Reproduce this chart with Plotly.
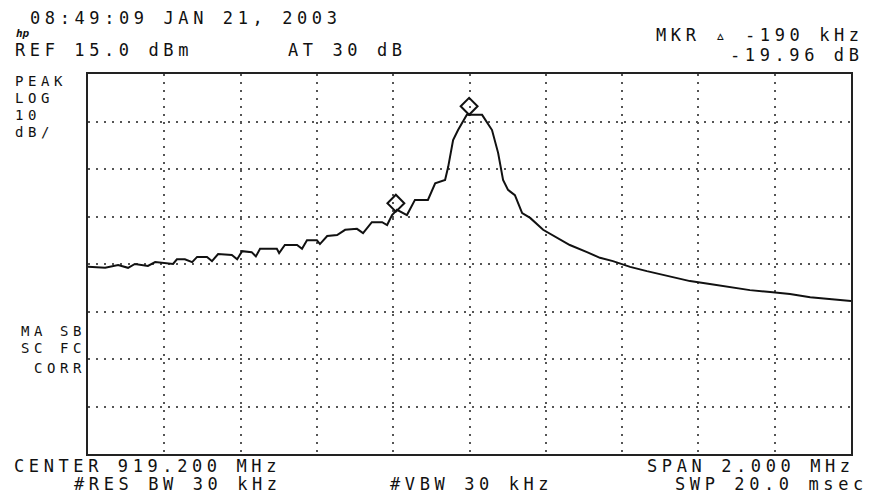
import plotly.graph_objects as go

# ---- data ----
freq_mhz = [918.200, 918.245, 918.279, 918.305, 918.323, 918.357, 918.376, 918.410, 918.423,
            918.433, 918.454, 918.473, 918.486, 918.512, 918.525, 918.541, 918.577, 918.591,
            918.604, 918.629, 918.640, 918.651, 918.695, 918.701, 918.716, 918.748, 918.761,
            918.774, 918.800, 918.808, 918.827, 918.853, 918.874, 918.905, 918.921, 918.944,
            918.971, 918.984, 918.997, 919.010, 919.026, 919.036, 919.057, 919.091, 919.110,
            919.136, 919.144, 919.157, 919.170, 919.183, 919.193, 919.233, 919.259, 919.275,
            919.288, 919.301, 919.319, 919.338, 919.359, 919.393, 919.429, 919.463, 919.508,
            919.542, 919.576, 919.621, 919.665, 919.707, 919.752, 919.778, 919.830, 919.883,
            919.935, 919.988, 920.040, 920.093, 920.145, 920.200]
level_dbm = [-25.6, -25.8, -25.2, -25.8, -25.0, -25.4, -24.6, -24.8, -25.0,
             -24.0, -24.0, -24.6, -23.5, -23.5, -24.4, -22.9, -23.1, -24.0,
             -22.3, -22.5, -23.4, -21.8, -21.8, -22.7, -21.0, -21.0, -21.8,
             -20.0, -20.0, -20.8, -19.1, -18.9, -17.8, -17.6, -18.5, -16.2,
             -16.2, -16.8, -14.7, -13.6, -14.3, -14.7, -11.5, -11.5, -8.0,
             -7.3, -4.6, 1.1, 3.2, 4.9, 6.4, 6.4, 3.2, -1.6,
             -7.3, -9.4, -10.5, -14.3, -15.3, -17.8, -19.5, -21.0, -22.5,
             -23.7, -24.4, -25.6, -26.5, -27.3, -28.0, -28.6, -29.2, -29.8,
             -30.5, -30.9, -31.3, -32.0, -32.4, -32.8]
marker_freq = [919.199, 919.007]
marker_level = [8.2, -12.2]

ref_level = 15.0
db_per_div = 10
center_mhz = 919.2
span_mhz = 2.0

# ---- layout helpers (pixel -> paper) ----
L, R, T, B = 88, 851, 74, 454
FONT = "DejaVu Sans Mono"


def ann(text, x, y, anchor="left", size=17, ls=4.6):
    return dict(text=f'<span style="letter-spacing:{ls}px">{text}</span>',
                x=(x - L) / (R - L), y=(B - y) / (B - T), xref="paper", yref="paper",
                xanchor=anchor, yanchor="middle", showarrow=False,
                font=dict(family=FONT, size=size, color="#111"))


fig = go.Figure()
fig.add_trace(go.Scatter(x=freq_mhz, y=level_dbm, mode="lines",
                         line=dict(color="#111", width=2), hoverinfo="skip"))
fig.add_trace(go.Scatter(x=marker_freq, y=marker_level, mode="markers",
                         marker=dict(symbol="diamond-open", size=13, color="#111",
                                     line=dict(width=2, color="#111")), hoverinfo="skip"))

annotations = [
    ann("08:49:09 JAN 21, 2003", 28, 18),
    ann("<i><b>hp</b></i>", 14, 34, size=11, ls=0),
    ann("REF 15.0 dBm", 13, 50),
    ann("AT 30 dB", 286, 50),
    ann("MKR ▵ -190 kHz", 866, 35, anchor="right"),
    ann("-19.96 dB", 866, 55, anchor="right"),
    ann("PEAK", 13, 81, size=14, ls=4.6),
    ann("LOG", 13, 98, size=14, ls=4.6),
    ann("10", 13, 115, size=14, ls=4.6),
    ann("dB/", 13, 132, size=14, ls=4.6),
    ann("MA SB", 88, 331, anchor="right", size=14, ls=4.6),
    ann("SC FC", 88, 348, anchor="right", size=14, ls=4.6),
    ann("CORR", 88, 368, anchor="right", size=14, ls=4.6),
    ann("CENTER 919.200 MHz", 12, 466),
    ann("SPAN 2.000 MHz", 857, 466, anchor="right"),
    ann("#RES BW 30 kHz", 72, 484),
    ann("#VBW 30 kHz", 388, 484),
    ann("SWP 20.0 msec", 870, 484, anchor="right"),
]

fig.update_layout(
    width=870, height=500,
    margin=dict(l=L, r=870 - R, t=T, b=500 - B),
    paper_bgcolor="white", plot_bgcolor="white",
    showlegend=False,
    annotations=annotations,
)
grid = dict(showgrid=True, gridcolor="#555", gridwidth=1.5, griddash="2px,6px",
            showticklabels=False, ticks="", zeroline=False,
            showline=True, mirror=True, linecolor="#222", linewidth=2)
fig.update_xaxes(range=[center_mhz - span_mhz / 2, center_mhz + span_mhz / 2],
                 dtick=span_mhz / 10, tick0=center_mhz - span_mhz / 2, **grid)
fig.update_yaxes(range=[ref_level - 8 * db_per_div, ref_level],
                 dtick=db_per_div, tick0=ref_level, **grid)

fig.write_html("out.html", config={"displayModeBar": False},
               post_script="document.body.style.margin='0';document.body.style.overflow='hidden';")
